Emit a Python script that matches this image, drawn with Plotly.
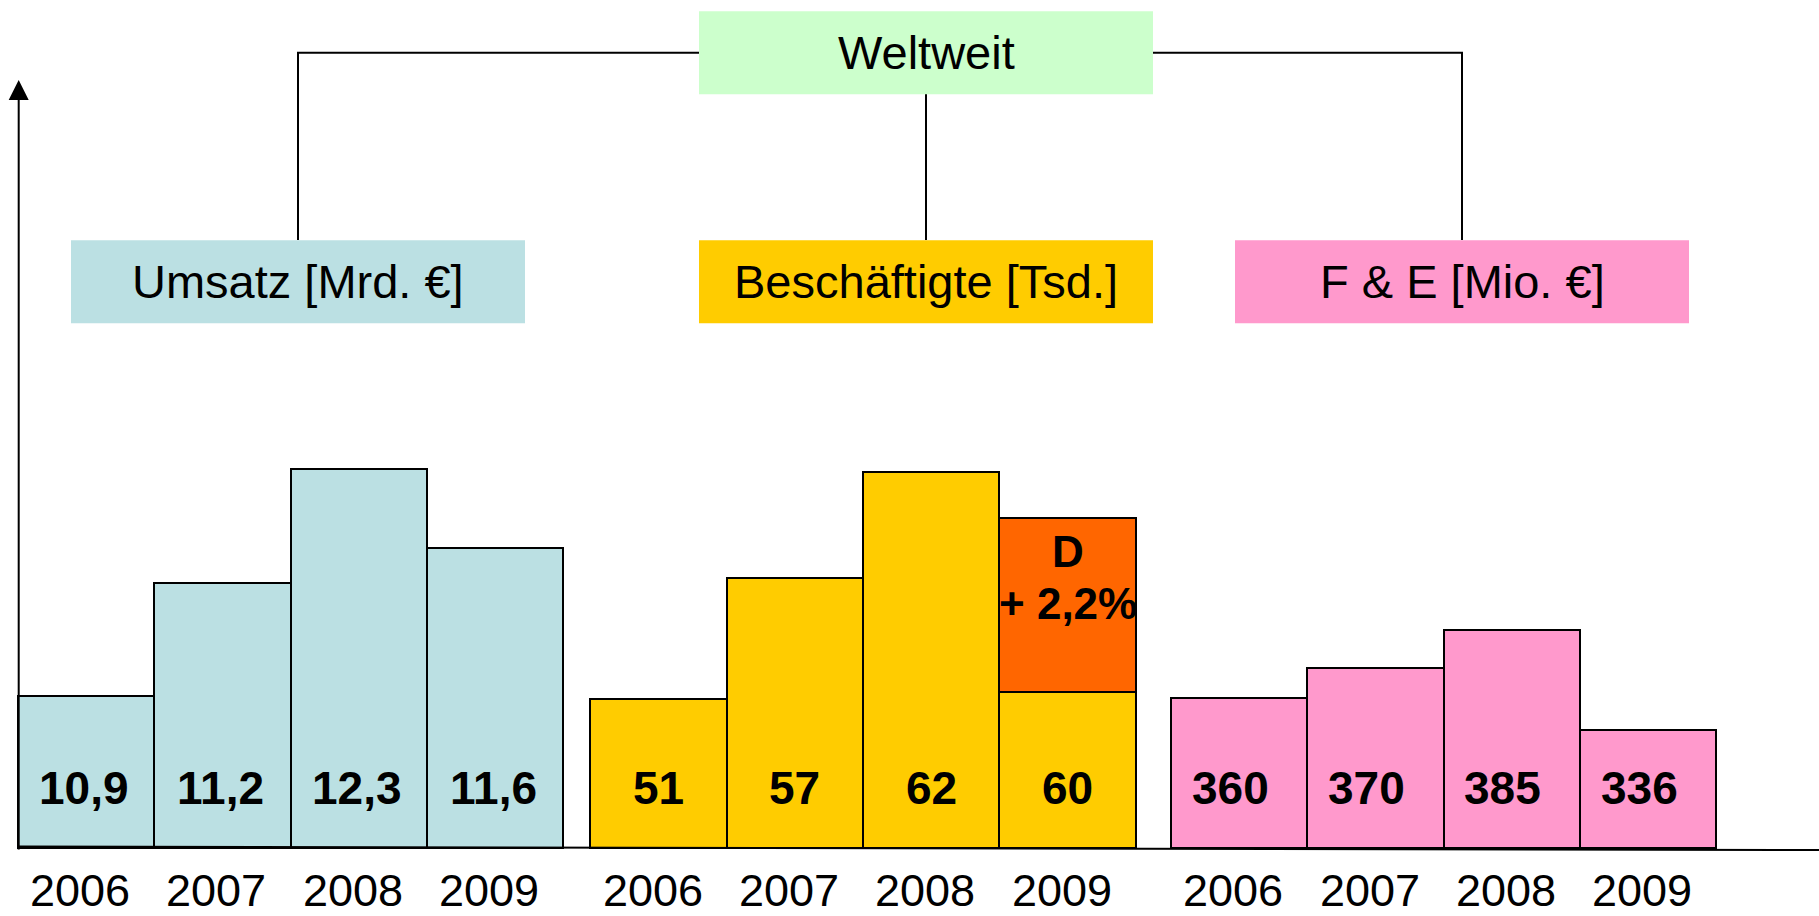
import plotly.graph_objects as go

# ---------------- data ----------------
years = ["2006", "2007", "2008", "2009"]

umsatz = [10.9, 11.2, 12.3, 11.6]          # Mrd. €
beschaeftigte = [51, 57, 62, 60]           # Tsd.
fue = [360, 370, 385, 336]                 # Mio. €

# bar heights as drawn in the picture (schematic, not proportional to values)
umsatz_height = [152, 265, 379, 300]
besch_height = [149, 270, 376, 156]
fue_height = [150, 180, 218, 118]
d_increase_height = 174                    # orange block on top of 2009
d_label = ["D", "+ 2,2%"]

top_title = "Weltweit"
group_titles = ["Umsatz [Mrd. €]", "Beschäftigte [Tsd.]", "F & E [Mio. €]"]

# ---------------- styles / layout constants ----------------
W, H = 1819, 916
FONT = "Liberation Sans, Arial, Helvetica, sans-serif"
group_colors = ["#BBE0E3", "#FFCC00", "#FF99CC"]
orange = "#FF6600"
top_color = "#CCFFCC"

BAR_PX = 136.3          # pixel width of one bar slot
X0_PX = 18              # left edge of first bar
BASE_PX = 848           # baseline pixel row
group_offsets = [0.0, 4.2, 8.46]
label_xshift = [-2, 0, -9]

def px2x(px):
    return px / W

def px2y(py):
    return 1 - py / H

labels = [
    [f"{v:.1f}".replace(".", ",") for v in umsatz],
    [str(v) for v in beschaeftigte],
    [str(v) for v in fue],
]
heights = [umsatz_height, besch_height, fue_height]

fig = go.Figure()

xs_all = []
for g in range(3):
    xs = [group_offsets[g] + i + 0.5 for i in range(len(years))]
    xs_all.append(xs)
    fig.add_trace(go.Bar(
        x=xs, y=heights[g], width=1,
        marker=dict(color=group_colors[g], line=dict(color="black", width=2)),
        hoverinfo="skip", showlegend=False,
    ))

# orange increase block (Germany) on top of 2009 employees
fig.add_trace(go.Bar(
    x=[xs_all[1][3]], y=[d_increase_height], base=[besch_height[3]], width=1,
    marker=dict(color=orange, line=dict(color="black", width=2)),
    hoverinfo="skip", showlegend=False,
))

annotations = []
# value labels and years
for g in range(3):
    for i, yr in enumerate(years):
        annotations.append(dict(
            x=xs_all[g][i], y=60, xref="x", yref="y", xshift=label_xshift[g],
            text=f"<b>{labels[g][i]}</b>", showarrow=False,
            font=dict(family=FONT, size=46, color="black"),
            xanchor="center", yanchor="middle",
        ))
        annotations.append(dict(
            x=xs_all[g][i], y=-42, xref="x", yref="y", xshift=-6,
            text=yr, showarrow=False,
            font=dict(family=FONT, size=45, color="black"),
            xanchor="center", yanchor="middle",
        ))

# text inside orange block
d_top = besch_height[3] + d_increase_height
for k, (txt, off) in enumerate(zip(d_label, [33, 85])):
    annotations.append(dict(
        x=xs_all[1][3], y=d_top - off, xref="x", yref="y",
        text=f"<b>{txt}</b>", showarrow=False,
        font=dict(family=FONT, size=44, color="black"),
        xanchor="center", yanchor="middle",
    ))

# header boxes
box_w, box_h = 454, 83
box_centers = [(298, 281.7), (926, 281.7), (1462, 281.7)]
top_center = (926, 52.7)

shapes = []
line_style = dict(color="black", width=2)
# connectors
shapes.append(dict(
    type="path", xref="paper", yref="paper", layer="above",
    path=(f"M {px2x(298)},{px2y(240)} L {px2x(298)},{px2y(52.7)} "
          f"L {px2x(1462)},{px2y(52.7)} L {px2x(1462)},{px2y(240)}"),
    line=line_style,
))
shapes.append(dict(
    type="line", xref="paper", yref="paper", layer="above",
    x0=px2x(926), y0=px2y(94), x1=px2x(926), y1=px2y(240), line=line_style,
))
# boxes
for (cx, cy), col, title in zip(box_centers + [top_center],
                               group_colors + [top_color],
                               group_titles + [top_title]):
    shapes.append(dict(
        type="rect", xref="paper", yref="paper", layer="above",
        x0=px2x(cx - box_w / 2), x1=px2x(cx + box_w / 2),
        y0=px2y(cy - box_h / 2), y1=px2y(cy + box_h / 2),
        fillcolor=col, line=dict(width=0),
    ))
    annotations.append(dict(
        x=px2x(cx), y=px2y(cy), xref="paper", yref="paper",
        text=title, showarrow=False,
        font=dict(family=FONT, size=47, color="black"),
        xanchor="center", yanchor="middle",
    ))

# baseline
shapes.append(dict(
    type="line", xref="paper", yref="paper", layer="above",
    x0=px2x(18), y0=px2y(846.5), x1=px2x(1819), y1=px2y(850),
    line=line_style,
))

# vertical axis with arrow
annotations.append(dict(
    x=px2x(18.7), y=px2y(80), xref="paper", yref="paper",
    ax=0, ay=771, axref="pixel", ayref="pixel",
    text="", showarrow=True, arrowhead=2, arrowsize=2, arrowwidth=2,
    arrowcolor="black",
))

fig.update_layout(
    width=W, height=H,
    margin=dict(l=0, r=0, t=0, b=0, pad=0),
    paper_bgcolor="white", plot_bgcolor="white",
    barmode="overlay", bargap=0,
    xaxis=dict(range=[-X0_PX / BAR_PX, (W - X0_PX) / BAR_PX], visible=False, fixedrange=True),
    yaxis=dict(range=[BASE_PX - H, BASE_PX], visible=False, fixedrange=True),
    shapes=shapes, annotations=annotations, showlegend=False,
)

fig.write_html(
    "out.html",
    config={"displayModeBar": False},
    post_script="document.body.style.margin='0';document.body.style.overflow='hidden';",
)
